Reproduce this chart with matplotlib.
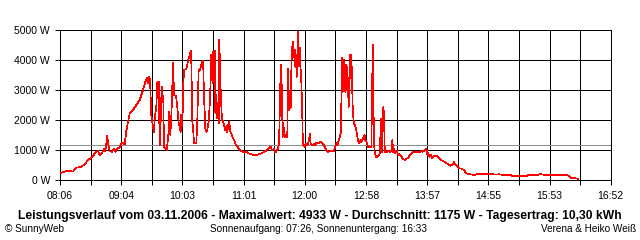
import matplotlib
matplotlib.use("Agg")
import matplotlib.pyplot as plt
import numpy as np

# time in minutes since midnight, power in W
times = [486.7, 490.5, 493.0, 495.6, 498.4, 501.6, 506.3, 509.6, 512.7, 515.9, 517.5, 520.7, 522.3, 523.9,
         526.1, 528.0, 529.3, 531.2, 531.9, 533.5, 535.7, 537.6, 538.8, 540.7, 543.0, 544.6, 546.2, 547.8,
         549.3, 551.0, 552.6, 555.7, 558.9, 562.1, 565.3, 567.5, 569.1, 570.1, 571.0, 572.0, 572.6, 573.2,
         574.8, 575.8, 576.5, 578.0, 578.9, 579.6, 580.3, 581.2, 582.2, 583.1, 584.7, 585.3, 587.0, 587.9,
         589.4, 590.4, 591.4, 592.5, 594.0, 594.9, 596.8, 598.0, 599.4, 601.3, 601.9, 602.9, 603.6, 604.5,
         606.6, 608.3, 609.9, 610.9, 611.4, 612.4, 613.0, 614.0, 616.2, 617.1, 617.8, 618.5, 619.7, 621.0,
         622.3, 622.9, 623.6, 624.2, 624.8, 625.7, 626.7, 628.0, 629.0, 629.9, 630.5, 631.2, 631.8, 632.4,
         633.1, 633.8, 634.3, 635.3, 636.3, 636.9, 637.6, 638.2, 638.8, 639.5, 640.1, 640.7, 641.7, 642.7,
         643.9, 645.2, 645.8, 647.2, 648.1, 648.7, 649.6, 650.6, 651.5, 652.9, 653.8, 655.4, 656.7, 658.6,
         660.8, 664.0, 666.3, 668.7, 672.0, 675.1, 678.3, 681.5, 684.7, 687.3, 688.5, 690.4, 691.7, 693.3,
         694.3, 695.2, 696.1, 696.8, 697.4, 698.0, 698.7, 699.3, 700.0, 700.9, 703.1, 703.8, 704.4, 705.0,
         705.7, 706.3, 706.9, 707.6, 708.2, 708.8, 709.5, 710.2, 710.7, 711.4, 712.1, 712.6, 713.3, 714.0,
         714.6, 715.2, 715.8, 716.4, 717.2, 717.8, 718.4, 719.7, 720.6, 722.2, 723.5, 724.8, 725.4, 726.7,
         728.6, 729.9, 731.2, 732.5, 734.1, 735.6, 737.3, 738.8, 740.4, 742.0, 744.9, 747.7, 749.0, 750.0,
         750.6, 751.5, 753.2, 754.1, 754.7, 755.4, 756.0, 756.6, 757.3, 757.9, 758.5, 759.2, 759.8, 760.4,
         761.1, 761.7, 762.3, 762.9, 763.6, 764.2, 764.8, 765.5, 766.0, 766.7, 767.9, 769.3, 770.5, 771.8,
         773.1, 774.3, 775.6, 776.9, 777.5, 778.8, 780.1, 783.4, 784.0, 784.7, 785.3, 785.9, 786.6, 787.8,
         789.1, 790.4, 791.7, 792.3, 792.9, 793.6, 794.2, 794.9, 795.5, 796.2, 797.7, 799.3, 801.2, 802.5,
         803.5, 804.1, 805.0, 806.3, 807.6, 808.9, 810.5, 812.1, 813.6, 815.3, 816.8, 818.4, 820.0, 821.6,
         824.1, 827.0, 829.6, 831.1, 832.7, 834.4, 835.9, 836.9, 837.6, 838.2, 839.2, 840.1, 841.3, 843.2,
         845.8, 847.7, 849.7, 851.9, 854.0, 856.6, 859.2, 860.7, 862.4, 863.6, 865.5, 867.8, 870.0, 871.9,
         874.1, 877.4, 882.2, 884.4, 888.2, 893.6, 894.8, 896.7, 898.7, 901.5, 905.3, 909.2, 916.8, 917.4,
         931.1, 933.0, 942.6, 944.2, 949.0, 969.6, 971.3, 974.5, 980.8]
power = [233, 280, 310, 300, 280, 410, 443, 522, 667, 743, 810, 943, 967, 833,
         890, 1033, 967, 1477, 1222, 967, 943, 1033, 943, 1055, 1077, 1222, 1255, 1188,
         1633, 1943, 2222, 2333, 2500, 2667, 3000, 3277, 3390, 3222, 3443, 3333, 2777, 2167,
         1777, 1610, 2077, 2443, 3257, 2943, 3277, 1167, 2000, 3100, 2600, 1100, 1050, 1000,
         1450, 2267, 1500, 2267, 3890, 2833, 2800, 2443, 1890, 1610, 2167, 1777, 3110, 3667,
         3700, 3967, 4167, 4300, 4000, 1943, 1777, 1222, 1222, 1943, 2943, 3667, 3667, 3833,
         3967, 3700, 2723, 2277, 1723, 1610, 1667, 1943, 2500, 3333, 4167, 3557, 3223, 4277,
         3723, 4300, 2243, 2833, 2057, 2200, 1890, 4667, 3777, 2943, 2443, 2000, 1950, 1833,
         1667, 1800, 1600, 1943, 1800, 1610, 1550, 1443, 1390, 1277, 1190, 1110, 1055, 967,
         943, 943, 890, 857, 833, 845, 890, 943, 1033, 1110, 1000, 1030, 923, 1000,
         1055, 1222, 2557, 3833, 3833, 2610, 1443, 1890, 1610, 1443, 1443, 3723, 2557, 2333,
         2943, 2390, 3557, 4443, 4390, 4610, 4110, 4333, 3777, 4057, 3443, 4110, 4933, 4333,
         3777, 4390, 3723, 3390, 2500, 1500, 1167, 1110, 1222, 1167, 1277, 1523, 1222, 1167,
         1190, 1167, 1255, 1222, 1255, 1277, 1200, 1110, 1000, 943, 967, 967, 1110, 1222,
         1160, 1222, 1443, 1557, 2500, 4057, 2943, 3557, 4000, 3223, 2943, 3833, 3000, 3777,
         3057, 2443, 3223, 4167, 3390, 4167, 3557, 2500, 2167, 1890, 1833, 1610, 1333, 1222,
         1333, 1277, 1390, 1500, 1333, 1277, 1110, 1110, 2777, 4500, 2833, 1222, 943, 777,
         750, 833, 890, 2033, 2033, 943, 2033, 2443, 2100, 943, 923, 967, 943, 967,
         1333, 943, 1055, 890, 967, 833, 857, 777, 700, 667, 700, 743, 810, 890,
         943, 923, 923, 967, 943, 1000, 1033, 833, 900, 833, 777, 833, 723, 810,
         810, 743, 667, 630, 590, 523, 477, 500, 590, 520, 443, 390, 370, 333,
         223, 190, 167, 190, 190, 200, 222, 190, 200, 180, 190, 167, 167, 122,
         122, 167, 167, 200, 167, 167, 150, 70, 43]

average_w = 1175
x_start, x_end = 486, 1012
x_tick_labels = ["08:06", "09:04", "10:03", "11:01", "12:00", "12:58", "13:57", "14:55", "15:53", "16:52"]
y_ticks = [0, 1000, 2000, 3000, 4000, 5000]
title = "Leistungsverlauf vom 03.11.2006 - Maximalwert: 4933 W - Durchschnitt: 1175 W - Tagesertrag: 10,30 kWh"
left_note = "© SunnyWeb"
center_note = "Sonnenaufgang: 07:26, Sonnenuntergang: 16:33"
right_note = "Verena & Heiko Weiß"

plt.rcParams['font.family'] = ['Liberation Sans', 'DejaVu Sans']

fig = plt.figure(figsize=(6.4, 2.4), dpi=100)
ax = fig.add_axes([60 / 640, 60 / 240, 550.7 / 640, 150 / 240])

ticks = np.linspace(x_start, x_end, 19)
labels = []
for i in range(19):
    labels.append(x_tick_labels[i // 2] if i % 2 == 0 else "")
ax.set_xticks(ticks)
ax.set_xticklabels(labels)
ax.set_yticks(y_ticks)
ax.set_yticklabels([f"{v} W" for v in y_ticks])
ax.set_xlim(x_start, x_end)
ax.set_ylim(0, 5000)

LW = 0.72
ax.grid(True, color="black", lw=LW, antialiased=False)
ax.set_axisbelow(True)
ax.axhline(average_w, color="#8c8c8c", lw=LW, antialiased=False, zorder=2)
ax.plot(times, power, color="#ff0000", lw=0.5, antialiased=False, zorder=3)

for s in ax.spines.values():
    s.set_color("black")
    s.set_linewidth(LW)
    s.set_antialiased(False)
ax.tick_params(axis="both", direction="out", length=3.6, width=LW, color="black",
               labelsize=7.5, labelcolor="black")
ax.tick_params(axis="x", pad=4)
ax.tick_params(axis="y", pad=3.6)

fig.text(0.5, (240 - 216) / 240, title, ha="center", va="center", fontsize=8.75, fontweight="bold")
fig.text(5 / 640, (240 - 229) / 240, left_note, ha="left", va="center", fontsize=7.2)
fig.text(318 / 640, (240 - 229) / 240, center_note, ha="center", va="center", fontsize=7.2)
fig.text(636 / 640, (240 - 229) / 240, right_note, ha="right", va="center", fontsize=7.2)

fig.savefig("out.png", dpi=100, facecolor="white")
